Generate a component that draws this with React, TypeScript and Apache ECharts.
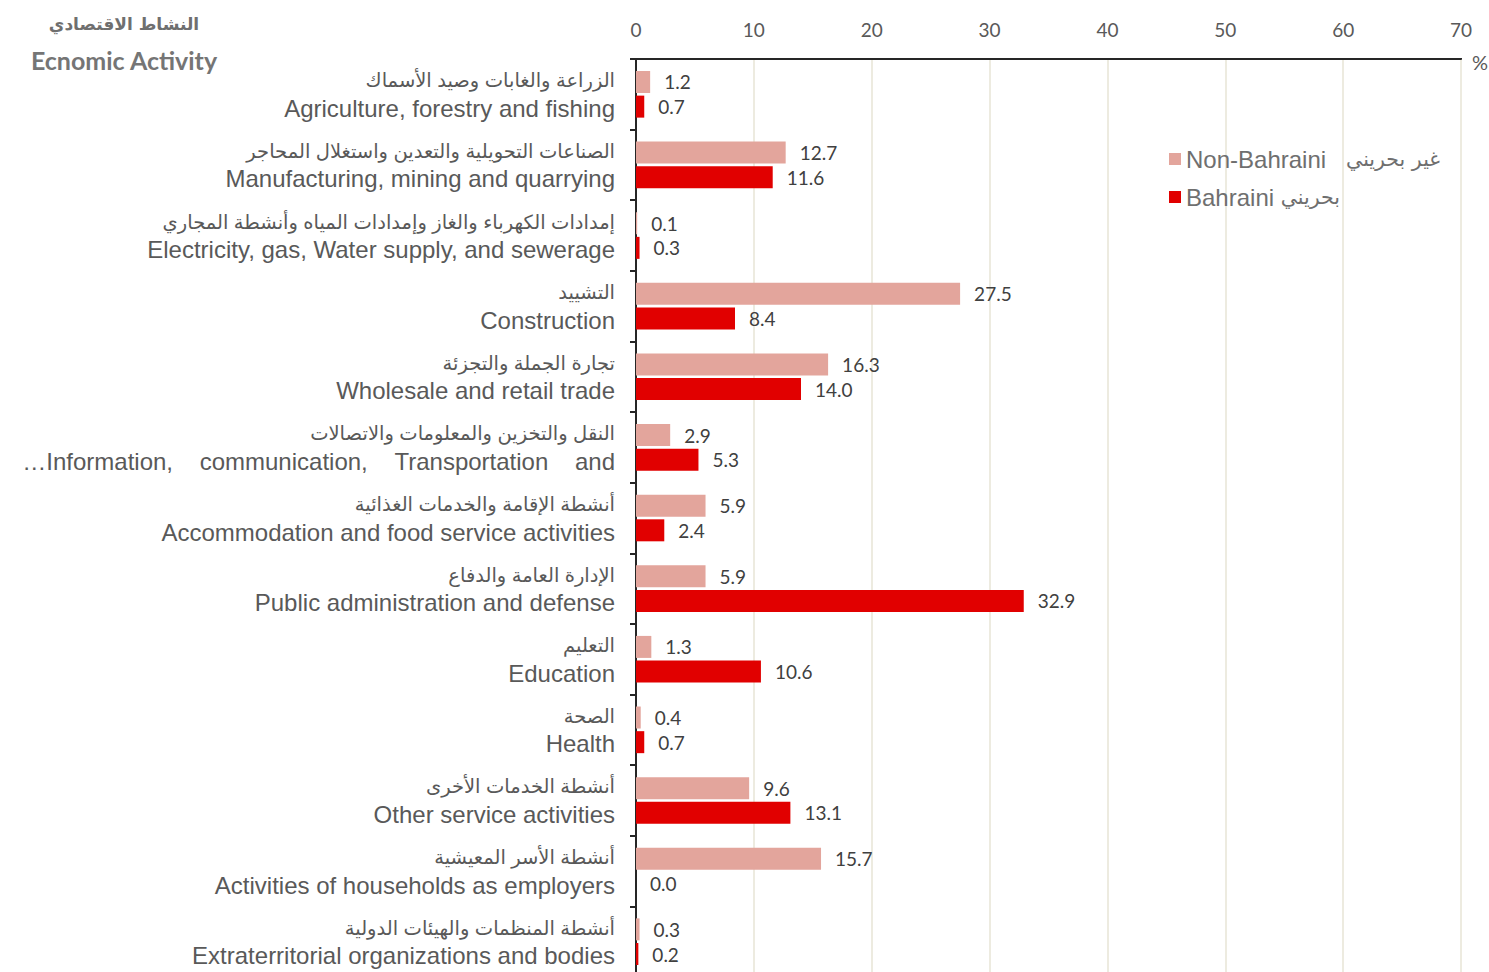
import { useEffect, useRef } from "react";
import * as echarts from "echarts";

const categoriesAr = [
  "الزراعة والغابات وصيد الأسماك",
  "الصناعات التحويلية والتعدين واستغلال المحاجر",
  "إمدادات الكهرباء والغاز وإمدادات المياه وأنشطة المجاري",
  "التشييد",
  "تجارة الجملة والتجزئة",
  "النقل والتخزين والمعلومات والاتصالات",
  "أنشطة الإقامة والخدمات الغذائية",
  "الإدارة العامة والدفاع",
  "التعليم",
  "الصحة",
  "أنشطة الخدمات الأخرى",
  "أنشطة الأسر المعيشية",
  "أنشطة المنظمات والهيئات الدولية",
];

const NB = "\u00A0\u00A0\u00A0\u00A0";
const categoriesEn = [
  "Agriculture, forestry and fishing",
  "Manufacturing, mining and quarrying",
  "Electricity, gas, Water supply, and sewerage",
  "Construction",
  "Wholesale and retail trade",
  "…Information," + NB + "communication," + NB + "Transportation" + NB + "and",
  "Accommodation and food service activities",
  "Public administration and defense",
  "Education",
  "Health",
  "Other service activities",
  "Activities of households as employers",
  "Extraterritorial organizations and bodies",
];

const nonBahraini = [1.2, 12.7, 0.1, 27.5, 16.3, 2.9, 5.9, 5.9, 1.3, 0.4, 9.6, 15.7, 0.3];
const bahraini = [0.7, 11.6, 0.3, 8.4, 14.0, 5.3, 2.4, 32.9, 10.6, 0.7, 13.1, 0.0, 0.2];

const seriesNames = ["Non-Bahraini", "Bahraini"];
const seriesNamesAr = ["غير بحريني", "بحريني"];
const legendGap = ["\u00A0\u00A0\u00A0", "\u00A0"];

const xMin = 0;
const xMax = 70;
const xInterval = 10;

export default function App() {
  const ref = useRef<HTMLDivElement>(null);
  useEffect(() => {
    const chart = echarts.init(ref.current!, null, { renderer: "svg" });
    const labelStyle = {
      show: true,
      position: "right" as const,
      distance: 14,
      color: "#404040",
      fontSize: 19,
      fontFamily: "Lato",
      formatter: (p: any) => Number(p.value).toFixed(1),
    };
    chart.setOption({
      animation: false,
      backgroundColor: "#ffffff",
      grid: {
        left: 636,
        top: 59,
        width: 825,
        height: 918,
        show: true,
        borderColor: "#262626",
        borderWidth: 2,
        containLabel: false,
        outerBoundsMode: "none",
      },
      legend: {
        orient: "vertical",
        left: 1164,
        top: 142,
        itemWidth: 12,
        itemHeight: 12,
        itemGap: 14,
        icon: "rect",
        data: seriesNames,
        formatter: (name: string) => {
          const i = seriesNames.indexOf(name);
          return `{en|${name}${legendGap[i]}}{ar|${seriesNamesAr[i]}}`;
        },
        textStyle: {
          color: "#6F6F6F",
          rich: {
            en: { fontSize: 24, color: "#6F6F6F", fontFamily: "Liberation Sans" },
            ar: { fontSize: 20.5, color: "#6F6F6F", fontFamily: "DejaVu Sans" },
          },
        },
      },
      xAxis: {
        type: "value",
        position: "top",
        min: xMin,
        max: xMax,
        interval: xInterval,
        axisLine: { show: true, lineStyle: { color: "#262626", width: 2 } },
        axisTick: { show: false },
        axisLabel: { color: "#595959", fontSize: 19, fontFamily: "Lato", margin: 20 },
        splitLine: { show: true, lineStyle: { color: "#EDEBE0", width: 2 } },
      },
      yAxis: {
        type: "category",
        inverse: true,
        data: categoriesEn.map((_, i) => String(i)),
        axisLine: { show: true, lineStyle: { color: "#262626", width: 2 } },
        axisTick: { show: true, length: 6, lineStyle: { color: "#262626", width: 2 } },
        axisLabel: {
          margin: 21,
          formatter: (_v: string, i: number) => `{ar|${categoriesAr[i]}}\n{en|${categoriesEn[i]}}`,
          rich: {
            ar: { fontSize: 19.5, lineHeight: 28, color: "#595959", fontFamily: "Liberation Sans, DejaVu Sans", align: "right" },
            en: { fontSize: 24, lineHeight: 28, color: "#595959", fontFamily: "Liberation Sans", align: "right" },
          },
        },
      },
      series: [
        {
          name: seriesNames[0],
          type: "bar",
          data: nonBahraini,
          barWidth: 22,
          barGap: "12%",
          itemStyle: { color: "#E3A59C" },
          label: labelStyle,
        },
        {
          name: seriesNames[1],
          type: "bar",
          data: bahraini,
          barWidth: 22,
          barGap: "12%",
          itemStyle: { color: "#E10000" },
          label: labelStyle,
        },
      ],
      graphic: [
        {
          type: "text",
          x: 124,
          y: 24,
          style: { text: "النشاط الاقتصادي", fontSize: 17, fontWeight: "bold", fill: "#6F6F6F", fontFamily: "DejaVu Sans", textAlign: "center", textVerticalAlign: "middle" },
        },
        {
          type: "text",
          x: 124,
          y: 60,
          style: { text: "Ecnomic Activity", fontSize: 25, fontWeight: "bold", fill: "#757575", fontFamily: "Lato", textAlign: "center", textVerticalAlign: "middle" },
        },
        {
          type: "text",
          x: 1472,
          y: 52,
          style: { text: "%", fontSize: 20, fill: "#595959", fontFamily: "Lato" },
        },
      ],
    });
    return () => chart.dispose();
  }, []);
  return (
    <div
      ref={ref}
      style={{ position: "fixed", left: 0, top: 0, width: 1489, height: 972, background: "#fff" }}
    />
  );
}
